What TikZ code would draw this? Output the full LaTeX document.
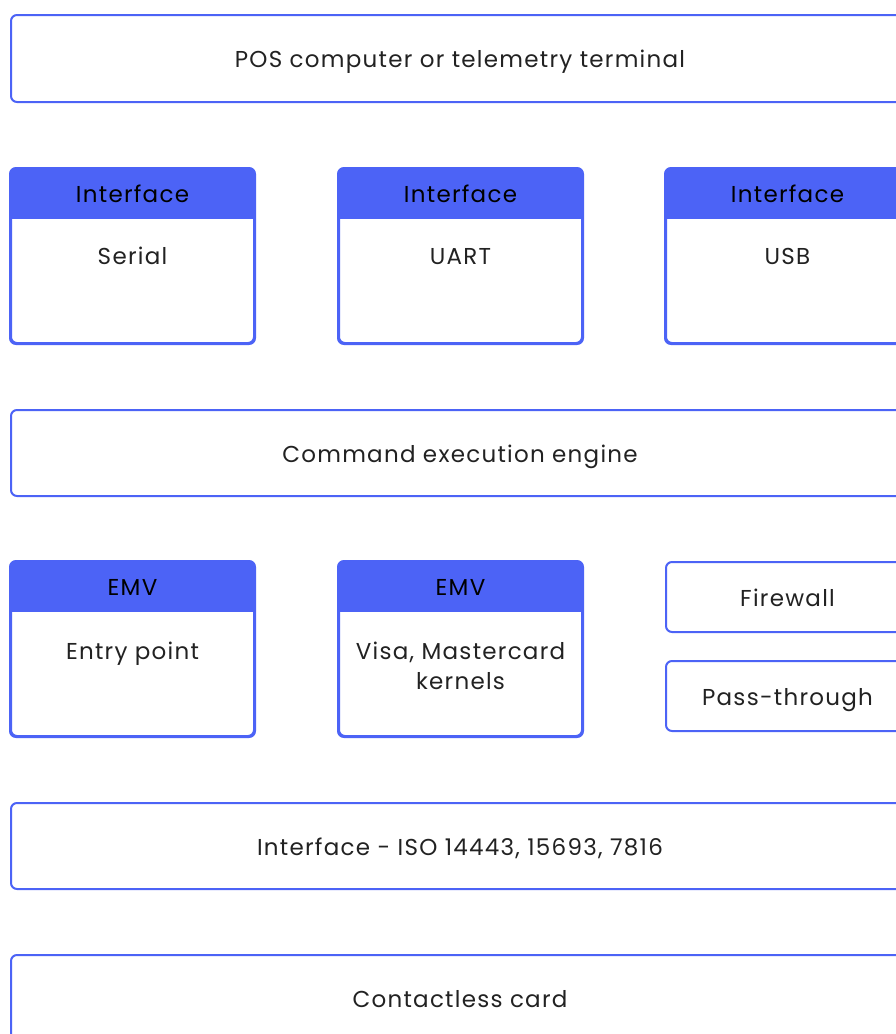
\documentclass[tikz,border=0pt]{standalone}
\usepackage{fontspec}
\setmainfont{Poppins}[LetterSpace=5.5]
\definecolor{bl}{RGB}{76,99,246}
\definecolor{tx}{RGB}{34,34,34}
\tikzset{
  txt/.style={inner sep=0pt, text height=18pt, text depth=0pt, font=\fontsize{23}{30}\selectfont, align=center},
  box/.style={txt, draw=bl, line width=2pt, rounded corners=6pt, fill=white, text=tx},
  hdr/.style={txt, text=black},
  body/.style={txt, text=tx},
}
\newcommand{\hdrbox}[6]{% name, cx, cy, header text, body text, body y
  \node[box, minimum width=243pt, minimum height=174pt] (#1) at (#2,#3) {};
  \begin{scope}
    \clip[rounded corners=6pt] (#1.north west) rectangle (#1.south east);
    \fill[bl] (#1.north west) rectangle ([yshift=-51pt]#1.north east);
  \end{scope}
  \draw[bl, line width=2pt, rounded corners=6pt] (#1.north west) rectangle (#1.south east);
  \node[hdr] (#1h) at ([yshift=-25.5pt]#1.north) {#4};
  \node[body] (#1b) at (#2,#6) {#5};
}
\begin{document}
\begin{tikzpicture}[x=1pt,y=-1pt]
\useasboundingbox (0,0) rectangle (896,1034);
\clip (0,0) rectangle (896,1034);
\node[box, minimum width=898pt, minimum height=87pt] (pos) at (460,58.5) {POS computer or telemetry terminal};
\hdrbox{serial}{132.5}{256}{Interface}{Serial}{255}
\hdrbox{uart}{460.5}{256}{Interface}{UART}{255}
\hdrbox{usb}{787.5}{256}{Interface}{USB}{255}
\node[box, minimum width=898pt, minimum height=86pt] (cee) at (460,453) {Command execution engine};
\hdrbox{entry}{132.5}{649}{EMV}{Entry point}{650}
\hdrbox{kern}{460.5}{649}{EMV}{Visa, Mastercard\\kernels}{680}
\node[box, minimum width=243pt, minimum height=70pt] (fw) at (787.5,597) {Firewall};
\node[box, minimum width=243pt, minimum height=70pt] (pt) at (787.5,696) {Pass-through};
\node[box, minimum width=898pt, minimum height=86pt] (iso) at (460,846) {Interface - ISO 14443, 15693, 7816};
\node[box, minimum width=898pt, minimum height=87pt] (card) at (460,998.5) {Contactless card};
\end{tikzpicture}
\end{document}
